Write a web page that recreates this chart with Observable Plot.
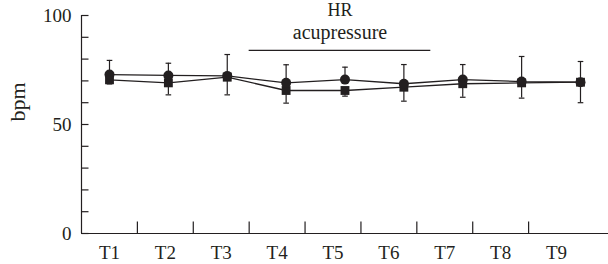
<!DOCTYPE html>
<html>
<head>
<meta charset="utf-8">
<script src="https://cdn.jsdelivr.net/npm/d3@7"></script>
<script src="https://cdn.jsdelivr.net/npm/@observablehq/plot@0.6"></script>
<style>
  html, body { margin: 0; padding: 0; background: #ffffff; }
  #chart { position: relative; width: 608px; height: 264px; font-family: "Liberation Serif", serif; }
  #chart svg { position: absolute; left: 0; top: 0; }
  #chart svg text { font-family: "Liberation Serif", serif; }
</style>
</head>
<body>
<div id="chart"></div>
<script>
// ---- data ----
const categories = ["T1", "T2", "T3", "T4", "T5", "T6", "T7", "T8", "T9"];
const circleMean  = [72.9, 72.5, 72.3, 69.1, 70.6, 68.7, 70.6, 69.7, 69.4];
const circleUpper = [79.4, 78.1, 82.1, 77.4, 76.3, 77.5, 77.5, 81.2, 78.9];
const squareMean  = [70.5, 69.1, 71.7, 65.6, 65.6, 67.1, 68.7, 69.1, 69.4];
const squareLower = [68.6, 63.6, 63.6, 59.8, 63.0, 60.7, 62.5, 62.1, 60.0];
const yTicks = [0, 10, 20, 30, 40, 50, 60, 70, 80, 90, 100];
const yTickLabels = [0, 50, 100];
const xCategoryTicks = [1, 2, 3, 4, 5, 6, 7, 8, 9];
const xBoundaryTicks = [1.5, 2.5, 3.5, 4.5, 5.5, 6.5, 7.5, 8.5];
const yAxisTitle = "bpm";
const annotationLines = ["HR", "acupressure"];
const annotationSpan = [3.5, 6.75];
const annotationLevel = 84;

const ink = "#231f20";
const font = "Liberation Serif";

const rows = categories.map((c, i) => ({
  t: i + 1, cat: c,
  cm: circleMean[i], cu: circleUpper[i],
  sm: squareMean[i], sl: squareLower[i]
}));
const long = [
  ...rows.map(r => ({t: r.t, v: r.cm, s: "circle"})),
  ...rows.map(r => ({t: r.t, v: r.sm, s: "square"}))
];

const rad = size => Math.sqrt(size / Math.PI);
const capSymbol = {draw(ctx, size) { const r = rad(size); ctx.moveTo(-r, 0); ctx.lineTo(r, 0); }};
const tickRight = {draw(ctx, size) { const r = rad(size); ctx.moveTo(0, 0); ctx.lineTo(r, 0); }};
const tickUp = {draw(ctx, size) { const r = rad(size); ctx.moveTo(0, 0); ctx.lineTo(0, -r); }};

const common = {
  width: 608, height: 264,
  marginLeft: 81, marginRight: 0, marginTop: 15, marginBottom: 31,
  style: {fontFamily: font, fontSize: "19px", color: ink, background: "transparent", overflow: "visible"}
};
const txt = {fontFamily: font, fontSize: 19, fill: ink};
const annX = (annotationSpan[0] + annotationSpan[1]) / 2;

// Frame, axes and annotation
const axesPlot = Plot.plot({
  ...common,
  x: {domain: [0.5, 9.5], range: [81, 584], axis: null},
  y: {domain: [0, 100], range: [233, 15], axis: null},
  marks: [
    Plot.ruleY([0], {stroke: ink, strokeWidth: 1.2}),
    Plot.ruleX([0.5], {y1: 0, y2: 100, stroke: ink, strokeWidth: 1.2}),
    Plot.dot(yTicks, {y: d => d, frameAnchor: "left", symbol: tickRight, r: 7, stroke: ink, strokeWidth: 1.2, fill: "none"}),
    Plot.text(yTickLabels, {...txt, y: d => d, text: d => String(d), frameAnchor: "left", textAnchor: "end", dx: -10}),
    Plot.dot(xBoundaryTicks, {x: d => d, frameAnchor: "bottom", symbol: tickUp, r: 12, stroke: ink, strokeWidth: 1.2, fill: "none"}),
    Plot.text(xCategoryTicks, {...txt, x: d => d, text: i => categories[i - 1], frameAnchor: "bottom", lineAnchor: "top", dy: 12}),
    Plot.text([yAxisTitle], {...txt, fontSize: 22, frameAnchor: "left", rotate: -90, dx: -64, dy: -3}),
    Plot.ruleY([annotationLevel], {x1: annotationSpan[0], x2: annotationSpan[1], stroke: ink, strokeWidth: 1.2}),
    Plot.text([annotationLines[0]], {...txt, fontSize: 18, x: annX, y: annotationLevel, lineAnchor: "bottom", dy: -34}),
    Plot.text([annotationLines[1]], {...txt, fontSize: 20, x: annX, y: annotationLevel, lineAnchor: "bottom", dy: -11})
  ]
});

// Data series
const dataPlot = Plot.plot({
  ...common,
  x: {domain: [1, 9], range: [109, 580], axis: null},
  y: {domain: [0, 100], range: [233, 15], axis: null},
  marks: [
    Plot.ruleX(rows, {x: "t", y1: "cm", y2: "cu", stroke: ink, strokeWidth: 1.2}),
    Plot.ruleX(rows, {x: "t", y1: "sm", y2: "sl", stroke: ink, strokeWidth: 1.2}),
    Plot.dot(rows, {x: "t", y: "cu", symbol: capSymbol, r: 2.8, stroke: ink, strokeWidth: 1.2, fill: "none"}),
    Plot.dot(rows, {x: "t", y: "sl", symbol: capSymbol, r: 2.8, stroke: ink, strokeWidth: 1.2, fill: "none"}),
    Plot.line(long, {x: "t", y: "v", z: "s", stroke: ink, strokeWidth: 1.3}),
    Plot.dot(rows, {x: "t", y: "sm", symbol: "square", r: 5, fill: ink, stroke: "none"}),
    Plot.dot(rows, {x: "t", y: "cm", symbol: "circle", r: 5, fill: ink, stroke: "none"})
  ]
});

const el = document.getElementById("chart");
el.appendChild(axesPlot);
el.appendChild(dataPlot);
</script>
</body>
</html>
